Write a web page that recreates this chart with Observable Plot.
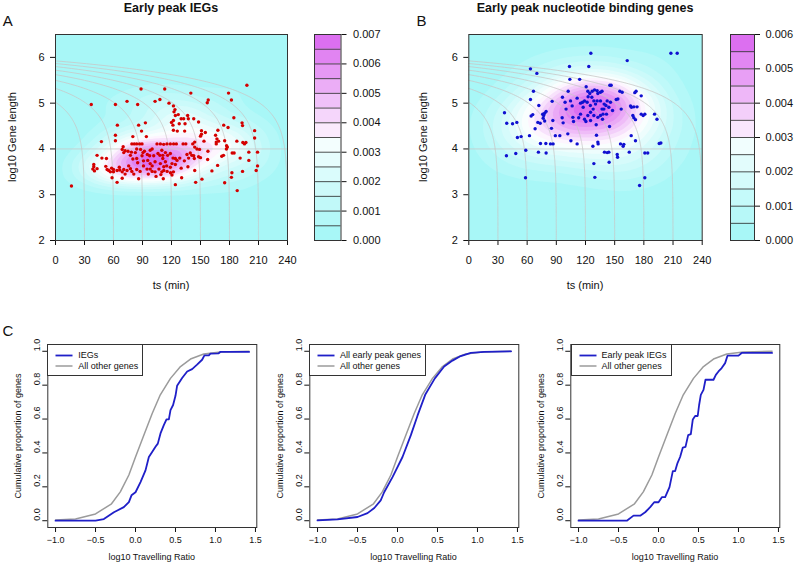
<!DOCTYPE html>
<html><head><meta charset="utf-8">
<script src="https://cdn.jsdelivr.net/npm/d3@7"></script>
<script src="https://cdn.jsdelivr.net/npm/@observablehq/plot@0.6"></script>
<style>
body{margin:0;background:#fff;}
#root{position:relative;width:796px;height:564px;overflow:hidden;font-family:"Liberation Sans",Arial,Helvetica,sans-serif;color:#111;}
.t{position:absolute;white-space:nowrap;line-height:1;}
.c{transform:translate(-50%,-50%);}
.r{transform:translate(-50%,-50%) rotate(-90deg);}
.lg{position:absolute;border:1px solid #333;box-sizing:border-box;background:#fff;}
</style></head><body><div id="root"></div>
<script>
const FONT = '"Liberation Sans", Arial, Helvetica, sans-serif';
const CYAN = "#a8f7f7", WHITE = "#ffffff", MAGENTA = "#dc6ff0", GUIDE = "#c8c8c8";

// ---- top panels: axes ----
const tsTicks = [0, 30, 60, 90, 120, 150, 180, 210, 240];
const lenTicks = [2, 3, 4, 5, 6];
const refLogLength = [4];
const guideEndTimes = [30, 60, 90, 120, 150, 180, 210, 240];
const elongationRate = 3500; // bp per minute (guide curves)

// colour-key levels
const keyLevelsA = [0, 0.0005, 0.001, 0.0015, 0.002, 0.0025, 0.003, 0.0035, 0.004, 0.0045, 0.005, 0.0055, 0.006, 0.0065, 0.007];
const keyTicksA = [0, 0.001, 0.002, 0.003, 0.004, 0.005, 0.006, 0.007];
const keyLevelsB = [0, 0.0005, 0.001, 0.0015, 0.002, 0.0025, 0.003, 0.0035, 0.004, 0.0045, 0.005, 0.0055, 0.006];
const keyTicksB = [0, 0.001, 0.002, 0.003, 0.004, 0.005, 0.006];

// ---- panel A: early peak IEGs [ts (min), log10 gene length] ----
const iegPoints = [
[88.5,5.31],[37,4.97],[62,4.97],[74,5.04],[85,4.97],[103,5.04],[108,5.08],
[64,4.52],[86,4.52],[93,4.57],[89,4.39],[80,4.27],[94,4.27],[47.5,4.16],[62,4.30],[62,4.18],
[79,4.11],[81.5,4.11],[84,4.11],[87,4.11],[89.5,4.11],[105,4.11],[108.5,4.11],
[69,3.99],[72,3.96],[70.6,3.92],[77.5,3.86],[78.5,3.93],[84,4.0],[82.6,3.92],[88,3.99],[90.5,3.92],
[84,3.79],[89.5,3.85],[91,3.74],[98,3.97],[97.4,3.85],[101.6,3.85],[108,3.86],[111,3.86],
[95.4,3.75],[98,3.68],[100,3.63],[103,3.72],[52.7,3.79],[43,3.86],
[39.6,3.66],[39.6,3.61],[38.6,3.56],[40.3,3.52],[43,3.57],
[53.4,3.55],[55,3.53],[56.8,3.50],[60,3.55],[63.7,3.53],[66.5,3.54],[69,3.50],[70.6,3.55],[60,3.50],
[75.7,3.63],[77.5,3.57],[74,3.53],[79,3.51],
[84,3.55],[87.5,3.51],[91,3.63],[94.7,3.56],[98,3.56],[100,3.51],[103,3.50],[107,3.56],[110,3.50],[112,3.53],
[109,3.44],[58.5,3.37],[69,3.36],[63.7,3.27],[86,3.35],[16.5,3.19],
[70,4.05],[75,3.95],[92,3.95],[95,3.88],[66,3.60],[72,3.45],[81,3.45],[96,3.45],[104,3.40],[58,3.58],
[48,3.80],[52,3.62],[85,3.70],[80,3.78],[100,4.0],[106,3.9],
[198,5.39],[113,5.31],[140,5.22],[179,5.22],[158,5.07],[157,5.01],[182,5.07],
[117.4,5.0],[122,4.94],[123.6,4.86],[122.6,4.81],[124,4.73],[127,4.75],
[130,4.66],[132.6,4.66],[136.7,4.73],[137.4,4.66],[143,4.66],[148,4.59],
[120,4.58],[122,4.62],[121.5,4.52],[128,4.55],[134,4.55],[122,4.41],[126,4.39],[133.6,4.39],
[184.5,4.68],[193,4.57],[193.5,4.51],[174,4.52],[178.5,4.47],[168,4.41],[206,4.40],
[151,4.40],[155,4.36],[151,4.32],[150,4.28],
[165.6,4.30],[167,4.22],[166.3,4.15],[168.7,4.17],[166.3,4.11],[175,4.18],[177,4.07],[177.8,4.04],[176.8,4.00],
[153.6,4.17],[144,4.15],[187.6,4.17],[193.8,4.14],[195.5,4.11],[197,4.14],[206,4.24],
[200,3.93],[209,3.93],[182.8,3.91],[184.8,3.91],[191,3.80],[200,3.75],[172,3.84],[173.8,3.86],
[167.7,3.64],[161.8,3.52],[182.5,3.48],[182,3.38],[193.5,3.51],[207.6,3.53],[209,3.63],
[175,3.26],[188,3.09],[151.5,3.34],[145,3.27],[124,3.22],[157.4,3.77],[144,3.53],
[137,3.61],[130,3.58],[125.7,3.75],[133.3,3.74],[128.5,3.80],[130.5,3.37],[111.5,3.35],
[120.5,3.43],[122,3.50],[119,3.48],[115.5,3.51],[143,3.85],[148,3.83],[150,3.81],[146.3,4.0],[149,3.99],
[136,3.88],[139.4,3.91],[141,3.86],[137.7,3.80],[143.6,3.79],[157.7,3.95],[142,4.11],[144,4.04],
[132,4.11],[134.8,4.11],[115.3,4.11],[118.8,4.11],[122.2,4.11],[125,4.11],[111.9,4.10],
[110,3.97],[113.7,3.92],[116,3.86],[118.8,3.90],[121.6,3.80],[124,3.79],
[111,3.79],[108.5,3.68],[113.7,3.72],[112,3.61],[115,3.63],[118.8,3.60],[120.5,3.68],[124,3.66]
];

// ---- panel B: early peak nucleotide binding genes ----
const nbPoints = [
[207.8,6.09],[214.3,6.09],[125.5,6.09],[162.9,5.93],[103.5,5.80],[123.4,5.80],[63.4,5.75],[70,5.65],
[103.9,5.52],[114,5.52],[66.5,5.26],[63.4,5.08],[120.7,5.36],[102.2,5.26],[111.4,5.11],[72,4.95],
[85.7,5.04],[96.3,5.13],[99,5.02],[36.7,4.79],[39,4.56],[45,4.55],[49.4,4.58],[50,4.25],[53.8,4.27],
[62.4,4.29],[64.1,4.72],[65.8,4.75],[68.2,4.44],[71,4.58],[73.4,4.56],[76.5,4.67],[77,4.73],[76,4.76],
[78,4.78],[79.5,4.82],[78,4.61],[73.7,4.12],[79.2,4.12],[71.6,3.93],[79.5,3.91],[38.7,3.85],[48.3,3.90],
[58.6,3.97],[58.3,3.37],[85,4.45],[86.4,4.62],[89,4.29],[93.6,4.29],[84,4.11],[86.7,4.11],[97,4.57],
[96,4.68],[100,4.87],[104.6,5.05],[106.3,4.94],[101.8,4.33],[105,4.18],[107,4.69],[107.7,4.60],[111.4,4.11],
[113,4.68],[114.9,5.0],[117,5.02],[119,5.05],[121.7,5.02],[114.9,4.76],[117.6,4.91],[119,4.65],[120.4,4.60],
[122.4,5.26],[124.4,5.21],[126.9,5.26],[129.3,5.29],[132,5.27],[132.7,5.21],[135.4,5.24],[137,5.26],
[122.7,5.14],[126.5,5.13],[128.6,5.05],[130.3,4.98],[132,5.05],[125,4.95],[127.9,4.87],[125.2,4.80],
[122.4,4.73],[128.6,4.73],[125.2,4.62],[132.7,4.69],[135.4,4.73],[138,4.76],[137.5,4.65],[131,4.53],
[135.4,5.05],[139.2,4.98],[138.9,4.87],[137,4.87],[142.3,5.05],[145.7,5.02],[144,4.91],[141.6,4.76],
[145,5.39],[146.4,5.39],[151.6,5.08],[153.3,5.09],[141,4.95],[147.8,4.84],[155.3,5.26],[157.7,5.24],
[156.7,4.87],[166.3,4.94],[167.3,4.91],[169.7,4.92],[170.7,5.23],[172,5.26],[177.3,5.16],[173,4.92],
[171.4,4.64],[168.7,4.73],[169.7,4.68],[177.3,4.76],[179.3,4.73],[181,4.76],[191,4.76],[193.5,4.65],
[195.8,4.12],[197.5,4.13],[167,4.29],[171.4,4.18],[159.4,4.10],[156,4.11],[158.7,4.06],[165,3.93],
[152.6,3.88],[153,3.82],[139.5,3.93],[142.3,3.92],[144,3.93],[144.3,3.71],[133,4.11],[132.7,4.15],
[131.3,4.30],[127.6,4.06],[128.6,3.68],[129.6,3.38],[144.7,4.49],[181,3.91],[184,3.91],[181,3.37],[175.6,3.20]
];

// ---- panel C: cumulative distributions of log10 travelling ratio ----
const trTicks = [-1.0, -0.5, 0.0, 0.5, 1.0, 1.5];
const propTicks = [0, 0.2, 0.4, 0.6, 0.8, 1.0];
const otherX = [-1.0,-0.75,-0.5,-0.3,-0.19,-0.083,0.0,0.104,0.21,0.31,0.4375,0.5625,0.6875,0.854,1.06,1.42];
const otherY = [0.004,0.01,0.04,0.1,0.17,0.27,0.376,0.505,0.634,0.743,0.84,0.91,0.954,0.984,0.996,1.0];
const iegTrX = [-1.0,-0.5,-0.396,-0.27,-0.146,-0.083,-0.05,0.0,0.0625,0.125,0.167,0.208,0.25,0.279,0.3125,0.354,0.3875,0.417,0.4375,0.47,0.5,0.52,0.583,0.646,0.708,0.77,0.833,0.862,0.917,0.9375,1.04,1.06,1.42];
const iegTrY = [0,0,0.01,0.05,0.08,0.11,0.15,0.168,0.228,0.297,0.376,0.406,0.436,0.455,0.515,0.564,0.598,0.598,0.653,0.683,0.737,0.796,0.842,0.881,0.895,0.921,0.95,0.976,0.976,0.986,0.988,0.996,0.996];
const earlyTrX = [-1.0,-0.75,-0.5,-0.375,-0.29,-0.21,-0.167,-0.0625,0.0625,0.167,0.25,0.346,0.467,0.583,0.6875,0.79,0.917,1.083,1.42];
const earlyTrY = [0.002,0.008,0.022,0.045,0.075,0.12,0.168,0.257,0.376,0.505,0.62,0.743,0.84,0.91,0.945,0.972,0.99,0.996,1.0];
const earlyIegTrX = [-1.0,-0.396,-0.3125,-0.229,-0.167,-0.104,-0.054,0.0,0.042,0.083,0.1375,0.179,0.208,0.2375,0.27,0.304,0.3375,0.371,0.404,0.429,0.458,0.49,0.508,0.529,0.5625,0.5875,0.6875,0.717,0.75,0.79,0.833,0.8625,1.0,1.04,1.42];
const earlyIegTrY = [0,0,0.03,0.03,0.05,0.08,0.109,0.109,0.139,0.139,0.198,0.293,0.293,0.34,0.376,0.432,0.436,0.505,0.511,0.598,0.618,0.618,0.683,0.743,0.772,0.832,0.832,0.861,0.881,0.901,0.93,0.974,0.974,0.99,0.99];

// ---------------------------------------------------------------
const root = document.getElementById("root");
const toCyan = d3.interpolateRgb(CYAN, WHITE), toMag = d3.interpolateRgb(WHITE, MAGENTA);
const cmInterp = t => t < 0.5 ? toCyan(t / 0.5) : toMag((t - 0.5) / 0.5);
function bandColor(i, n) { const k = n / 2; return i < k ? toCyan(i / k) : toMag((i - k + 1) / k); }

function place(el, left, top) {
  el.style.position = "absolute"; el.style.left = left + "px"; el.style.top = top + "px";
  el.style.maxWidth = "none"; el.style.background = "transparent"; el.style.overflow = "visible";
  root.appendChild(el);
  return el;
}
function text(str, x, y, size, cls, extra = "") {
  const d = document.createElement("div");
  d.className = "t " + cls; d.textContent = str;
  d.style.cssText += `left:${x}px;top:${y}px;font-size:${size}px;${extra}`;
  root.appendChild(d);
}

const guideLines = guideEndTimes.flatMap(T => d3.range(0, 241).map(i => {
  const remaining = T * Math.pow(10, -5 * i / 240);
  return {T, ts: T - remaining, len: Math.log10(elongationRate * remaining)};
}));

// density layer: computed in a stretched pixel space so the kernel can be anisotropic,
// then shrunk back onto the frame.
function densityLayer(points, fw, fh, bwx, bwy) {
  const b = 20, sx = b / bwx, sy = b / bwy;
  const svg = Plot.plot({
    width: fw * sx, height: fh * sy, margin: 0,
    style: {background: "transparent"},
    x: {domain: [0, 240], axis: null},
    y: {domain: [2, 6.5], axis: null},
    color: {type: "linear", zero: true, interpolate: cmInterp},
    marks: [
      Plot.frame({fill: CYAN}),
      Plot.density(points, {x: d => d[0], y: d => d[1], fill: "density", bandwidth: b, thresholds: 16, clip: true})
    ]
  });
  svg.style.transformOrigin = "0 0";
  svg.style.transform = `scale(${1 / sx}, ${1 / sy})`;
  return svg;
}

function scatterPanel(points, dotColor, width, marginLeft, marginRight) {
  return Plot.plot({
    width, height: 300, marginLeft, marginRight, marginTop: 34, marginBottom: 60,
    style: {fontFamily: FONT, fontSize: "11px", color: "#111", background: "transparent"},
    x: {domain: [0, 240], ticks: tsTicks, tickSize: 5, tickPadding: 11, label: null},
    y: {domain: [2, 6.5], ticks: lenTicks, tickFormat: d3.format("d"), tickSize: 5, tickPadding: 6, label: null},
    marks: [
      Plot.ruleY(refLogLength, {stroke: GUIDE, strokeWidth: 0.8}),
      Plot.line(guideLines, {x: "ts", y: "len", z: "T", stroke: GUIDE, strokeWidth: 0.8, clip: true}),
      Plot.dot(points, {x: d => d[0], y: d => d[1], r: 1.7, fill: dotColor}),
      Plot.frame({stroke: "#333"})
    ]
  });
}

function colorKey(levels, ticks, width, marginLeft, marginRight, pad) {
  const n = levels.length - 1;
  const bands = d3.range(n).map(i => ({lo: levels[i], hi: levels[i + 1], c: bandColor(i, n)}));
  return Plot.plot({
    width, height: 300, marginLeft, marginRight, marginTop: 34, marginBottom: 60,
    style: {fontFamily: FONT, fontSize: "11px", color: "#111", background: "transparent"},
    x: {axis: null},
    y: {domain: [levels[0], levels[n]], axis: "right", ticks, tickFormat: d3.format(".3f"), tickSize: 5, tickPadding: pad, label: null},
    color: {type: "identity"},
    marks: [
      Plot.rect(bands, {y1: "lo", y2: "hi", fill: "c"}),
      Plot.ruleY(levels.slice(1, -1), {stroke: "#222", strokeWidth: 0.8}),
      Plot.frame({stroke: "#333"})
    ]
  });
}

function ecdfPanel(bx, by) {
  const blue = bx.map((x, i) => ({x, y: by[i]}));
  const grey = otherX.map((x, i) => ({x, y: otherY[i]}));
  return Plot.plot({
    width: 265, height: 264, marginLeft: 47.3, marginRight: 8.7, marginTop: 44, marginBottom: 37,
    style: {fontFamily: FONT, fontSize: "9px", color: "#111", background: "transparent"},
    x: {domain: [-1.0968, 1.5168], ticks: trTicks, tickFormat: d3.format(".1f"), tickSize: 5, tickPadding: 4, label: null},
    y: {domain: [-0.04, 1.04], ticks: propTicks, tickFormat: () => "", tickSize: 5, label: null},
    marks: [
      Plot.line(grey, {x: "x", y: "y", stroke: "#9b9b9b", strokeWidth: 1.5}),
      Plot.line(blue, {x: "x", y: "y", stroke: "#1f1fc8", strokeWidth: 1.8}),
      Plot.text(propTicks, {y: d => d, text: d => d3.format(".1f")(d), frameAnchor: "left", dx: -10.5, rotate: -90, fontSize: 9}),
      Plot.frame({stroke: "#333"})
    ]
  });
}

place(densityLayer(iegPoints, 232, 206, 20, 10), 55, 34);
place(scatterPanel(iegPoints, "#d40000", 300, 55, 13), 0, 0);
place(colorKey(keyLevelsA, keyTicksA, 90, 14, 49.5, 7), 300, 0);
place(densityLayer(nbPoints, 233.4, 206, 28, 17), 468.3, 34);
place(scatterPanel(nbPoints, "#1010d0", 310, 68.3, 8.3), 400, 0);
place(colorKey(keyLevelsB, keyTicksB, 96, 30, 42, 6), 700, 0);

const cLefts = [0, 261.7, 523.3];
place(ecdfPanel(iegTrX, iegTrY), cLefts[0], 300);
place(ecdfPanel(earlyTrX, earlyTrY), cLefts[1], 300);
place(ecdfPanel(earlyIegTrX, earlyIegTrY), cLefts[2], 300);

// titles and labels
text("A", 7.8, 20, 15, "c");
text("B", 421.5, 20, 15, "c");
text("C", 8, 330, 15, "c");
text("Early peak IEGs", 171, 7.5, 12.5, "c", "font-weight:bold;");
text("Early peak nucleotide binding genes", 585, 7.5, 12.5, "c", "font-weight:bold;");
text("ts (min)", 171, 285, 11, "c");
text("ts (min)", 585, 285, 11, "c");
text("log10 Gene length", 11.5, 137, 11, "r");
text("log10 Gene length", 422.5, 137, 11, "r");
const legends = [["IEGs", 95.6], ["All early peak genes", 116.7], ["Early peak IEGs", 101]];
cLefts.forEach((L, i) => {
  const fl = L + 47.3;
  text("log10 Travelling Ratio", fl + 104.5, 557, 9, "c");
  text("Cumulative proportion of genes", L + 18, 435.5, 9, "r");
  const box = document.createElement("div");
  box.className = "lg";
  box.style.cssText += `left:${fl}px;top:343.5px;width:${legends[i][1]}px;height:32.5px;`;
  box.innerHTML = `<svg width="${legends[i][1]}" height="32" style="position:absolute;left:-1px;top:-1px">
    <line x1="8.5" x2="25.5" y1="11.5" y2="11.5" stroke="#1f1fc8" stroke-width="1.8"/>
    <line x1="8.5" x2="25.5" y1="22" y2="22" stroke="#9b9b9b" stroke-width="1.5"/></svg>`;
  root.appendChild(box);
  text(legends[i][0], fl + 31, 355, 9, "", "transform:translateY(-50%);");
  text("All other genes", fl + 31, 365.5, 9, "", "transform:translateY(-50%);");
});
</script></body></html>
